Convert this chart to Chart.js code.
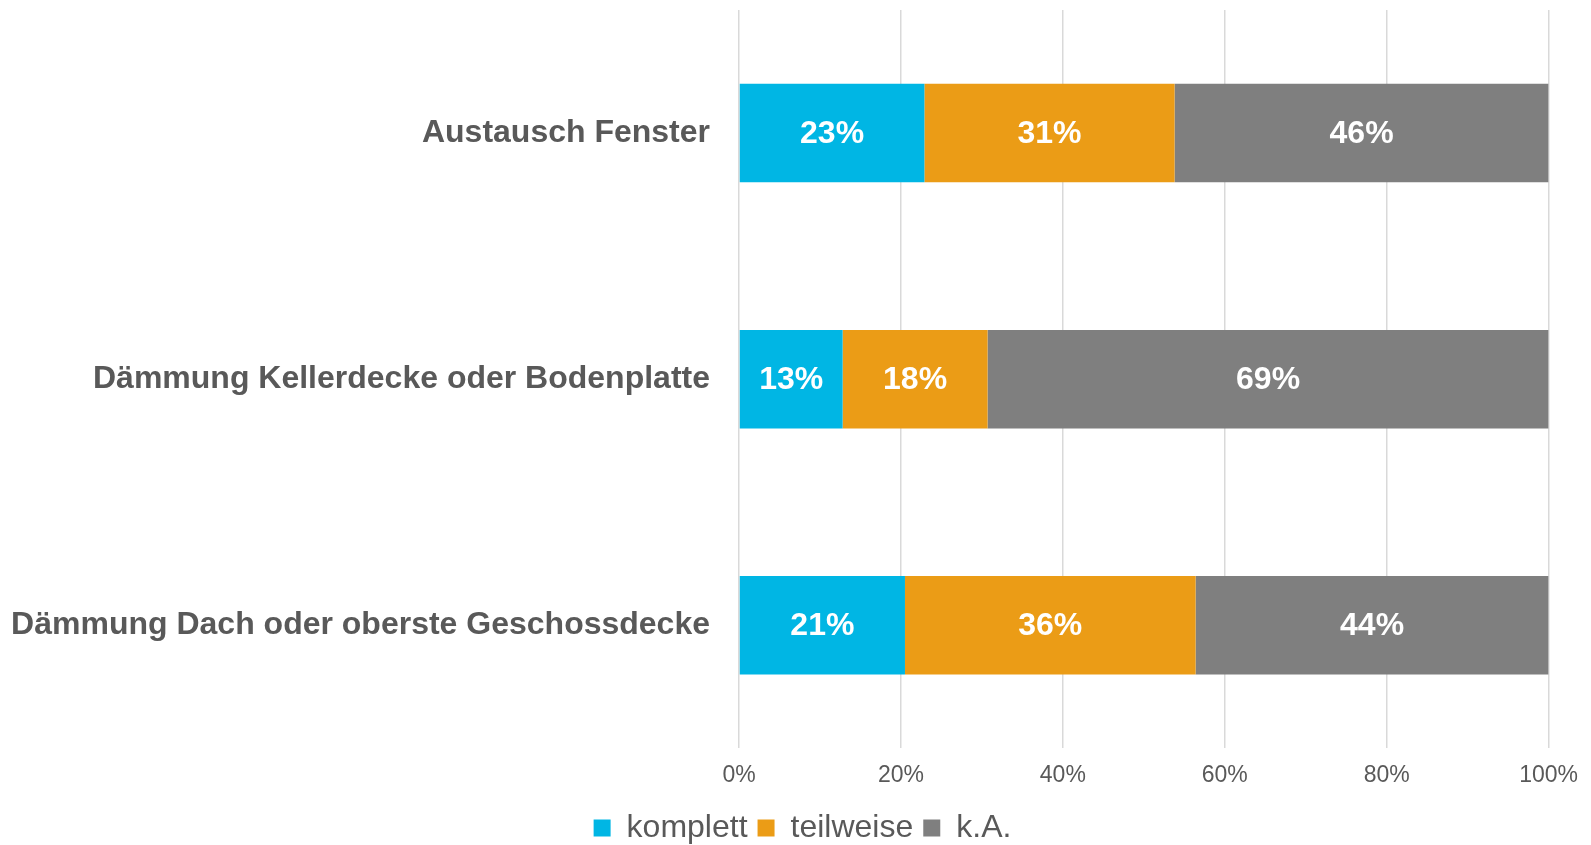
<!DOCTYPE html>
<html>

<head>
  <meta charset="UTF-8">
  <script src="https://cdn.jsdelivr.net/npm/chart.js"></script>
  <title>Dämmung und Fenster</title>
  <style>
    body { margin: 0; background: #fff; }
    .grafico { width: 1591px; height: 845px; }
  </style>
</head>

<body>
  <div class="grafico">
    <canvas id="myChart"></canvas>
  </div>
</body>

</html>

<script>
  // daten
  const kategorien = [
    'Austausch Fenster',
    'Dämmung Kellerdecke oder Bodenplatte',
    'Dämmung Dach oder oberste Geschossdecke'
  ];
  const komplett = [22.9, 12.8, 20.5];
  const teilweise = [30.9, 17.9, 35.9];
  const keineAngabe = [46.2, 69.3, 43.6];
  const xTicks = [0, 20, 40, 60, 80, 100];

  const schrift = '"Liberation Sans", Arial, sans-serif';
  const grau = '#595959';

  // prozentwerte mittig in die balken schreiben
  const barLabels = {
    id: 'barLabels',
    afterDatasetsDraw(chart) {
      const ctx = chart.ctx;
      ctx.save();
      ctx.font = 'bold 32px ' + schrift;
      ctx.fillStyle = '#ffffff';
      ctx.textAlign = 'center';
      ctx.textBaseline = 'middle';
      chart.data.datasets.forEach(function (ds, i) {
        chart.getDatasetMeta(i).data.forEach(function (bar, j) {
          const p = bar.getCenterPoint();
          ctx.fillText(Math.round(ds.data[j]) + '%', p.x, p.y + 1);
        });
      });
      ctx.restore();
    }
  };

  // legende etwas nach rechts schieben, wie im original
  const legendeVerschieben = {
    id: 'legendeVerschieben',
    afterLayout(chart) {
      chart.legend.left += 22;
      chart.legend.right += 22;
    }
  };

  const data = {
    labels: kategorien,
    datasets: [
      { label: 'komplett', data: komplett, backgroundColor: '#00B6E4' },
      { label: 'teilweise', data: teilweise, backgroundColor: '#EB9C16' },
      { label: 'k.A.', data: keineAngabe, backgroundColor: '#7F7F7F' }
    ]
  };

  const config = {
    type: 'bar',
    data: data,
    options: {
      indexAxis: 'y',
      responsive: true,
      maintainAspectRatio: false,
      animation: false,
      datasets: {
        bar: { barPercentage: 0.4, categoryPercentage: 1 }
      },
      layout: {
        padding: { left: 12, right: 42, top: 10, bottom: -9 }
      },
      scales: {
        x: {
          stacked: true,
          min: 0,
          max: 100,
          afterBuildTicks: function (axis) {
            axis.ticks = xTicks.map(function (v) { return { value: v }; });
          },
          grid: { color: '#D9D9D9', lineWidth: 1.5, drawTicks: false },
          border: { display: false },
          ticks: {
            color: grau,
            padding: 13,
            font: { family: schrift, size: 23 },
            callback: function (v) { return v + '%'; }
          }
        },
        y: {
          stacked: true,
          afterFit: function (scale) {
            scale.width = 727;
            scale.paddingTop = 0;
            scale.paddingBottom = 0;
          },
          grid: { display: false, drawTicks: false },
          border: { display: false },
          ticks: {
            color: grau,
            padding: 29,
            font: { family: schrift, size: 32, weight: 'bold' }
          }
        }
      },
      plugins: {
        tooltip: { enabled: false },
        legend: {
          position: 'bottom',
          labels: {
            color: grau,
            boxWidth: 17,
            boxHeight: 17,
            padding: 10,
            font: { family: schrift, size: 32 }
          }
        }
      }
    },
    plugins: [barLabels, legendeVerschieben]
  };

  const myChart = new Chart(
    document.getElementById('myChart'),
    config
  );
</script>
